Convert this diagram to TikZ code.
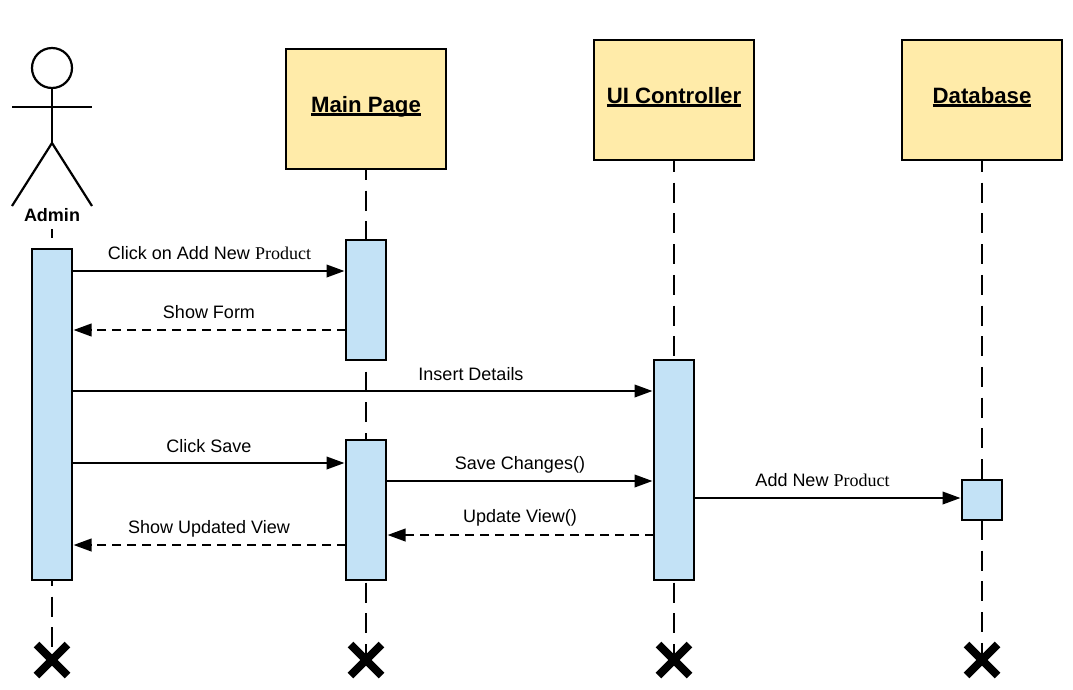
\documentclass[tikz,border=0pt]{standalone}
\usepackage{fontspec}
\setmainfont{Liberation Sans}
\newfontfamily\serifpart{Liberation Serif}
\usetikzlibrary{arrows.meta,backgrounds,shapes.misc}
\definecolor{headfill}{HTML}{FFEBA9}
\definecolor{actfill}{HTML}{C3E2F6}
\newcommand{\headul}[1]{\setbox0\hbox{#1}\rlap{\rule[-3.5pt]{\wd0}{2.2pt}}\box0}
\tikzset{
  x=1pt,y=-1pt,
  every node/.style={inner sep=0pt,outer sep=0pt},
  head/.style={draw=black,line width=2.2pt,fill=headfill,minimum width=160pt,minimum height=120pt},
  headtext/.style={anchor=base,font=\fontsize{22.2}{26}\selectfont\bfseries},
  act/.style={draw=black,line width=2.2pt,fill=actfill,minimum width=40pt},
  lifeline/.style={line width=2.3pt,dash pattern=on 20pt off 10.7pt},
  msg/.style={line width=2.3pt,-{Triangle[length=18pt,width=12.5pt,sep=1.5pt]}},
  reply/.style={msg,dash pattern=on 9pt off 6pt},
  msgtext/.style={font=\fontsize{18}{21}\selectfont},
  stopmark/.style={cross out,draw=black,line width=8pt,minimum size=31pt},
  limb/.style={line width=2.2pt},
}
\begin{document}
\begin{tikzpicture}
\useasboundingbox (0,0) rectangle (1073,689);
% actor
\node[circle,draw=black,line width=2.2pt,minimum size=40pt] (ahead) at (52,68) {};
\coordinate (aarml) at (12,107);
\coordinate (aarmr) at (92,107);
\coordinate (ahip) at (52,143);
\coordinate (alegl) at (12,206);
\coordinate (alegr) at (92,206);
\draw[limb] (ahead.south) -- (ahip);
\draw[limb] (aarml) -- (aarmr);
\draw[limb] (alegl) -- (ahip) -- (alegr);
\node[font=\fontsize{18}{21}\selectfont\bfseries] (admin) at (52,215) {Admin};
% heads
\node[head] (hmain) at (366,109) {};
\node[head] (hui) at (674,100) {};
\node[head] (hdb) at (982,100) {};
\node[headtext] (tmain) at (366,112) {\headul{Main Page}};
\node[headtext] (tui) at (674,103) {\headul{UI Controller}};
\node[headtext] (tdb) at (982,103) {\headul{Database}};
% activations
\node[act,minimum height=331pt] (aa) at (52,414.5) {};
\node[act,minimum height=120pt] (m1) at (366,300) {};
\node[act,minimum height=140pt] (m2) at (366,510) {};
\node[act,minimum height=220pt] (u1) at (674,470) {};
\node[act,minimum height=40pt] (d1) at (982,500) {};
% stops
\node[stopmark] (xa) at (52,660) {};
\node[stopmark] (xm) at (366,660) {};
\node[stopmark] (xu) at (674,660) {};
\node[stopmark] (xd) at (982,660) {};
% lifelines
\begin{scope}[on background layer]
\draw[lifeline,dash phase=11pt] (52,229) -- (aa.north);
\draw[lifeline,dash phase=14pt] (aa.south) -- (xa.center);
\draw[lifeline,dash phase=9pt] (hmain.south) -- (m1.north);
\draw[lifeline,dash phase=19pt] (m1.south) -- (m2.north);
\draw[lifeline,dash phase=28pt] (m2.south) -- (xm.center);
\draw[lifeline,dash phase=8pt] (hui.south) -- (u1.north);
\draw[lifeline,dash phase=28pt] (u1.south) -- (xu.center);
\draw[lifeline,dash phase=8pt] (hdb.south) -- (d1.north);
\draw[lifeline] (d1.south) -- (xd.center);
\end{scope}
% messages
\draw[msg] (aa.east |- 0,271) -- (m1.west |- 0,271);
\draw[reply] (m1.west |- 0,330) -- (aa.east |- 0,330);
\draw[msg] (aa.east |- 0,391) -- (u1.west |- 0,391);
\draw[msg] (aa.east |- 0,463) -- (m2.west |- 0,463);
\draw[reply] (m2.west |- 0,545) -- (aa.east |- 0,545);
\draw[msg] (m2.east |- 0,481) -- (u1.west |- 0,481);
\draw[reply] (u1.west |- 0,535) -- (m2.east |- 0,535);
\draw[msg] (u1.east |- 0,498) -- (d1.west |- 0,498);
% labels
\node[msgtext] (l1) at (209.5,253.5) {Click on Add New {\serifpart Product}};
\node[msgtext] (l2) at (209,312.5) {Show Form};
\node[msgtext] (l3) at (471,374) {Insert Details};
\node[msgtext] (l4) at (209,446) {Click Save};
\node[msgtext] (l5) at (209,529) {Show Updated View};
\node[msgtext] (l6) at (520,465) {Save Changes()};
\node[msgtext] (l7) at (520,518) {Update View()};
\node[msgtext] (l8) at (822.5,480) {Add New {\serifpart Product}};
\end{tikzpicture}
\end{document}
